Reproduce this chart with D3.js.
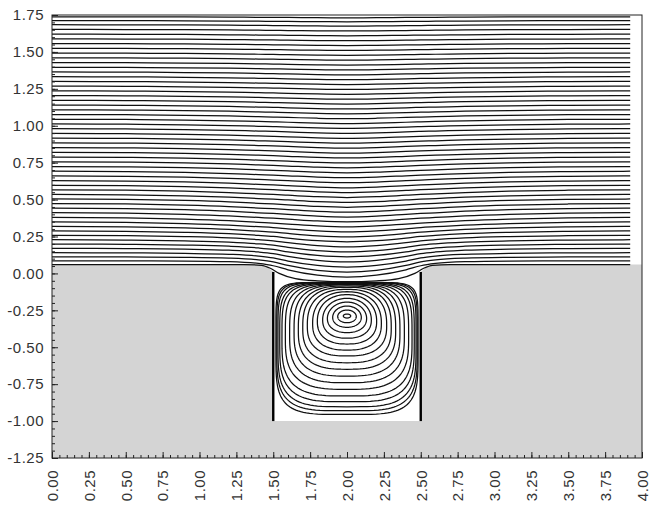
<!DOCTYPE html>
<html>
<head>
<meta charset="utf-8">
<script src="https://cdn.jsdelivr.net/npm/d3@7"></script>
<style>
  body { margin: 0; background: #fff; }
  text { font-family: "Liberation Sans", Arial, sans-serif; }
</style>
</head>
<body>
<div id="chart"></div>
<script>
// axis ticks
const xTicks = [0, 0.25, 0.5, 0.75, 1, 1.25, 1.5, 1.75, 2, 2.25, 2.5, 2.75, 3, 3.25, 3.5, 3.75, 4];
const yTicks = [-1.25, -1, -0.75, -0.5, -0.25, 0, 0.25, 0.5, 0.75, 1, 1.25, 1.5, 1.75];

// solid wall (grey) outline, with the cavity cut out
const groundX = [0, 1.44, 1.5, 1.5, 2.5, 2.5, 2.56, 4, 4, 0];
const groundY = [0.06, 0.06, 0.01, -1.0, -1.0, 0.01, 0.06, 0.06, -1.25, -1.25];

// free-stream streamlines: upstream height and dip at x = 2
const streamY0 = [0.085, 0.112, 0.140, 0.170, 0.199, 0.228, 0.258, 0.288, 0.318, 0.349,
  0.380, 0.411, 0.442, 0.473, 0.504, 0.535, 0.566, 0.597, 0.628, 0.660,
  0.692, 0.724, 0.756, 0.788, 0.820, 0.852, 0.884, 0.916, 0.948, 0.980,
  1.012, 1.044, 1.076, 1.108, 1.140, 1.172, 1.204, 1.236, 1.268, 1.300,
  1.332, 1.364, 1.396, 1.428, 1.460, 1.492, 1.524, 1.556, 1.588, 1.620,
  1.652, 1.684, 1.712, 1.738];
const dipDepth = [0.110, 0.103, 0.097, 0.092, 0.087, 0.082, 0.078, 0.074, 0.071, 0.068,
  0.065, 0.062, 0.060, 0.058, 0.056, 0.054, 0.052, 0.050, 0.048, 0.046,
  0.044, 0.043, 0.041, 0.040, 0.038, 0.037, 0.035, 0.034, 0.033, 0.031,
  0.030, 0.029, 0.028, 0.027, 0.026, 0.025, 0.024, 0.023, 0.022, 0.021,
  0.020, 0.019, 0.018, 0.017, 0.016, 0.015, 0.014, 0.013, 0.012, 0.011,
  0.010, 0.009, 0.008, 0.007];
const dipSharp = [1, 0.9, 0.8, 0.7, 0.6, 0.5, 0.4, 0.3, 0.2, 0.1];

// dip profile along x (wide one for high lines, sharp one near the cavity)
const profX     = [0, 0.5, 0.9, 1.2, 1.4, 1.5, 1.6, 1.8, 2.0, 2.2, 2.4, 2.5, 2.6, 2.8, 3.1, 3.5, 3.92];
const wideProf  = [0, 0.05, 0.18, 0.35, 0.52, 0.6, 0.7, 0.9, 1, 0.9, 0.7, 0.6, 0.52, 0.35, 0.18, 0.05, 0];
const sharpProf = [0, 0, 0.01, 0.05, 0.16, 0.3, 0.55, 0.88, 1, 0.88, 0.55, 0.3, 0.16, 0.05, 0.01, 0, 0];

// dividing streamline over the cavity mouth
const divX = [0, 1.3, 1.42, 1.48, 1.54, 1.65, 1.8, 2.0, 2.2, 2.35, 2.46, 2.52, 2.58, 2.7, 3.92];
const divY = [0.06, 0.06, 0.055, 0.035, 0.0, -0.035, -0.05, -0.056, -0.05, -0.035, 0.0, 0.035, 0.055, 0.06, 0.06];

// cavity vortex contours (centre x = 2)
const vortexX = 2.0;
const vTop    = [-0.275, -0.248, -0.221, -0.194, -0.169, -0.144, -0.124, -0.108, -0.094, -0.085,
  -0.078, -0.074, -0.070, -0.067, -0.065, -0.063, -0.062, -0.061];
const vMid    = [-0.288, -0.292, -0.298, -0.305, -0.315, -0.325, -0.338, -0.352, -0.367, -0.382,
  -0.397, -0.412, -0.428, -0.445, -0.462, -0.480, -0.500, -0.510];
const vBottom = [-0.302, -0.334, -0.365, -0.401, -0.439, -0.478, -0.519, -0.559, -0.605, -0.649,
  -0.695, -0.740, -0.785, -0.830, -0.869, -0.903, -0.930, -0.955];
const vHalfW  = [0.025, 0.063, 0.097, 0.133, 0.165, 0.201, 0.233, 0.269, 0.300, 0.330,
  0.359, 0.389, 0.418, 0.441, 0.456, 0.468, 0.476, 0.482];
const vSqTop  = [2, 2, 2, 2, 2.1, 2.2, 2.3, 2.5, 2.7, 2.9, 3.2, 3.5, 3.9, 4.4, 5, 6, 7, 8];
const vSqBot  = [2, 2, 2.1, 2.2, 2.3, 2.4, 2.5, 2.6, 2.7, 2.8, 2.9, 3.0, 3.1, 3.3, 3.5, 3.7, 3.9, 4.2];

// cavity side walls
const wallX = [1.5, 2.5];
const wallTop = 0.01, wallBottom = -1.0;

const W = 656, H = 510;
const margin = { left: 52, right: 14, top: 15, bottom: 52 };

const svg = d3.select('#chart').append('svg')
  .attr('width', W)
  .attr('height', H);

const x = d3.scaleLinear().domain([0, 4]).range([margin.left, W - margin.right]);
const y = d3.scaleLinear().domain([-1.25, 1.75]).range([H - margin.bottom, margin.top]);

// grey solid region
const ground = groundX.map((d, i) => [d, groundY[i]]);
svg.append('path')
  .attr('d', d3.line().x(d => x(d[0])).y(d => y(d[1]))(ground) + 'Z')
  .style('fill', '#d4d4d4');

const line = d3.line()
  .x(d => x(d[0]))
  .y(d => y(d[1]))
  .curve(d3.curveMonotoneX);

// free streamlines
const streams = streamY0.map((h, i) => {
  const s = dipSharp[i] ?? 0;
  return profX.map((px, k) => {
    const p = s * sharpProf[k] + (1 - s) * wideProf[k];
    return [px, h - dipDepth[i] * p];
  });
});

const lines = svg.append('g')
  .style('fill', 'none')
  .style('stroke', '#111')
  .style('stroke-width', 1.25);

lines.selectAll('path.stream')
  .data(streams)
  .join('path')
  .attr('class', 'stream')
  .attr('d', line);

lines.append('path')
  .attr('d', line(divX.map((d, i) => [d, divY[i]])));

// vortex contours
const vortex = vTop.map((t, i) => {
  const pts = [];
  for (let a = 0; a < 360; a += 3) {
    const th = a * Math.PI / 180;
    const c = Math.cos(th), s = Math.sin(th);
    const n = s >= 0 ? vSqTop[i] : vSqBot[i];
    const dx = vHalfW[i] * Math.sign(c) * Math.pow(Math.abs(c), 2 / n);
    const ry = s >= 0 ? t - vMid[i] : vMid[i] - vBottom[i];
    const dy = ry * Math.sign(s) * Math.pow(Math.abs(s), 2 / n);
    pts.push([vortexX + dx, vMid[i] + dy]);
  }
  return pts;
});

lines.selectAll('path.vortex')
  .data(vortex)
  .join('path')
  .attr('class', 'vortex')
  .attr('d', d3.line().x(d => x(d[0])).y(d => y(d[1])).curve(d3.curveLinearClosed));

// walls
svg.append('g').selectAll('line')
  .data(wallX)
  .join('line')
  .attr('x1', d => x(d)).attr('x2', d => x(d))
  .attr('y1', y(wallTop)).attr('y2', y(wallBottom))
  .style('stroke', '#000')
  .style('stroke-width', 2.4);

// frame
svg.append('rect')
  .attr('x', x(0)).attr('y', y(1.75))
  .attr('width', x(4) - x(0)).attr('height', y(-1.25) - y(1.75))
  .style('fill', 'none')
  .style('stroke', '#222')
  .style('stroke-width', 1);

// minor ticks
const xMinor = d3.range(0, 81).map(d => d * 0.05);
const yMinor = d3.range(0, 61).map(d => -1.25 + d * 0.05);

svg.append('g')
  .attr('transform', `translate(0,${y(-1.25)})`)
  .call(d3.axisBottom(x).tickValues(xMinor).tickSizeInner(-3).tickSizeOuter(0).tickFormat(''))
  .call(g => g.select('.domain').remove());
svg.append('g')
  .attr('transform', `translate(${x(0)},0)`)
  .call(d3.axisLeft(y).tickValues(yMinor).tickSizeInner(-3).tickSizeOuter(0).tickFormat(''))
  .call(g => g.select('.domain').remove());

// major axes
const xAxis = svg.append('g')
  .attr('transform', `translate(0,${y(-1.25)})`)
  .call(d3.axisBottom(x).tickValues(xTicks).tickSizeInner(-6).tickSizeOuter(0).tickFormat(d => d.toFixed(2)));
xAxis.select('.domain').remove();
xAxis.selectAll('text')
  .attr('transform', 'rotate(-90)')
  .attr('x', -12)
  .attr('y', 0)
  .attr('dy', '0.35em')
  .style('text-anchor', 'end');

const yAxis = svg.append('g')
  .attr('transform', `translate(${x(0)},0)`)
  .call(d3.axisLeft(y).tickValues(yTicks).tickSizeInner(-6).tickSizeOuter(0).tickPadding(8).tickFormat(d => d.toFixed(2)));
yAxis.select('.domain').remove();

svg.selectAll('.tick text')
  .style('font-size', '15px')
  .style('letter-spacing', '0.5px')
  .style('fill', '#333');
svg.selectAll('.tick line').style('stroke', '#222');
</script>
</body>
</html>
